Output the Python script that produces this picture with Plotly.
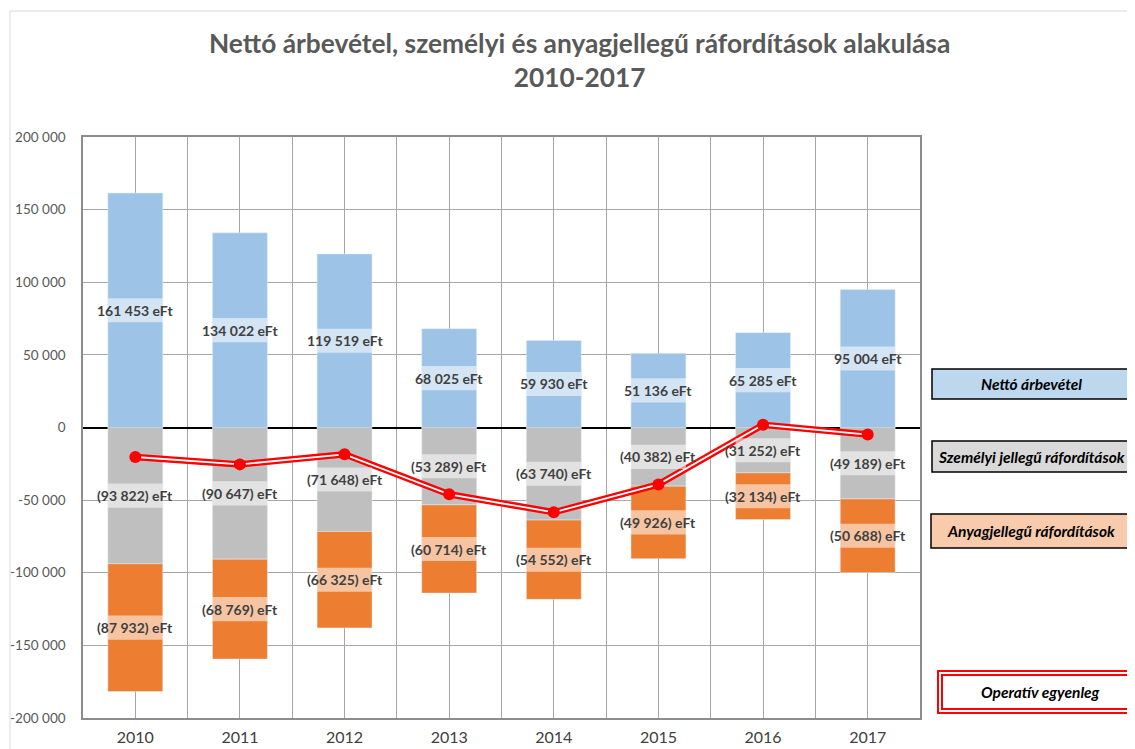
import plotly.graph_objects as go

years = ["2010", "2011", "2012", "2013", "2014", "2015", "2016", "2017"]
netto = [161453, 134022, 119519, 68025, 59930, 51136, 65285, 95004]
szemelyi = [-93822, -90647, -71648, -53289, -63740, -40382, -31252, -49189]
anyag = [-87932, -68769, -66325, -60714, -54552, -49926, -32134, -50688]
operativ = [-20301, -25394, -18454, -45978, -58362, -39172, 1899, -4873]

ytick_vals = [200000, 150000, 100000, 50000, 0, -50000, -100000, -150000, -200000]
ytick_text = ["200 000", "150 000", "100 000", "50 000", "0", "-50 000", "-100 000", "-150 000", "-200 000"]

FONT = "Lato"
OFF = 8  # page body margin in the browser
W, H = 1135 - OFF, 749 - OFF
# plot area in reference pixels: x 83..920, y 137..718
L, R, T, B = 83 - OFF, 1135 - 920, 137 - OFF, 749 - 718
PW, PH = W - L - R, H - T - B

def fmt(v):
    s = f"{abs(v):,}".replace(",", " ")
    return f"{s} eFt" if v >= 0 else f"({s}) eFt"

xs = list(range(len(years)))
bw = 0.525

fig = go.Figure()
fig.add_bar(x=xs, y=netto, name="Nettó árbevétel", marker_color="#9dc3e6", width=bw)
fig.add_bar(x=xs, y=szemelyi, name="Személyi jellegű ráfordítások", marker_color="#bfbfbf", width=bw)
fig.add_bar(x=xs, y=anyag, name="Anyagjellegű ráfordítások", marker_color="#ed7d31", width=bw)

# double red line
fig.add_scatter(x=xs, y=operativ, mode="lines", line=dict(color="#ff0000", width=6.5), showlegend=False)
fig.add_scatter(x=xs, y=operativ, mode="lines", line=dict(color="#ffffff", width=1.8), showlegend=False)
fig.add_scatter(x=xs, y=operativ, mode="markers", marker=dict(color="#ff0000", size=12), showlegend=False)

shapes = []
annotations = []
band_half = 8300
for i in xs:
    centers = [netto[i] / 2, szemelyi[i] / 2, szemelyi[i] + anyag[i] / 2]
    vals = [netto[i], szemelyi[i], anyag[i]]
    for c, v in zip(centers, vals):
        shapes.append(dict(type="rect", xref="x", yref="y", x0=i - bw / 2, x1=i + bw / 2,
                           y0=c - band_half, y1=c + band_half, fillcolor="rgba(255,255,255,0.55)",
                           line=dict(width=0), layer="above"))
        annotations.append(dict(x=i, y=c, xref="x", yref="y", text=f"<b>{fmt(v)}</b>", showarrow=False,
                                xanchor="center", yanchor="middle",
                                font=dict(family=FONT, size=14, color="#404040")))

def px_x(p):
    return (p - OFF - L) / PW

def px_y(p):
    return (H - B - (p - OFF)) / PH

# chart area border
shapes.append(dict(type="rect", xref="paper", yref="paper", x0=px_x(10), x1=px_x(1140), y0=px_y(760), y1=px_y(11),
                   line=dict(color="#d9d9d9", width=1), fillcolor="rgba(0,0,0,0)", layer="below"))

legend_items = [
    ("Nettó árbevétel", 932, 1131, 369, 399, "#bdd7ee"),
    ("Személyi jellegű ráfordítások", 932, 1130, 441, 472, "#d9d9d9"),
    ("Anyagjellegű ráfordítások", 931, 1130, 514, 548, "#f8cbad"),
]
for txt, x0, x1, y0, y1, col in legend_items:
    shapes.append(dict(type="rect", xref="paper", yref="paper", x0=px_x(x0), x1=px_x(x1), y0=px_y(y1), y1=px_y(y0),
                       fillcolor=col, line=dict(color="#000000", width=1.5)))
    annotations.append(dict(xref="paper", yref="paper", x=px_x((x0 + x1) / 2), y=px_y((y0 + y1) / 2),
                            xanchor="center", yanchor="middle",
                            text=f"<b><i>{txt}</i></b>", showarrow=False,
                            font=dict(family=FONT, size=15.5, color="#000000")))

# operativ legend box with double red border
shapes.append(dict(type="rect", xref="paper", yref="paper", x0=px_x(938), x1=px_x(1145), y0=px_y(713), y1=px_y(671),
                   fillcolor="#ffffff", line=dict(color="#ff0000", width=2)))
shapes.append(dict(type="rect", xref="paper", yref="paper", x0=px_x(942), x1=px_x(1141), y0=px_y(709), y1=px_y(675),
                   fillcolor="rgba(0,0,0,0)", line=dict(color="#ff0000", width=2)))
annotations.append(dict(xref="paper", yref="paper", x=px_x(1040), y=px_y(692), xanchor="center", yanchor="middle",
                        text="<b><i>Operatív egyenleg</i></b>", showarrow=False,
                        font=dict(family=FONT, size=15.5, color="#000000")))

# title
annotations.append(dict(xref="paper", yref="paper", x=px_x(579), y=px_y(60), xanchor="center", yanchor="middle",
                        text="<b>Nettó árbevétel, személyi és anyagjellegű ráfordítások alakulása<br>2010-2017</b>",
                        showarrow=False, font=dict(family=FONT, size=26.3, color="#595959")))

fig.update_layout(
    width=W, height=H,
    margin=dict(l=L, r=R, t=T, b=B, autoexpand=False),
    barmode="relative",
    plot_bgcolor="#ffffff", paper_bgcolor="#ffffff",
    showlegend=False,
    shapes=shapes,
    annotations=annotations,
    font=dict(family=FONT),
)
fig.update_xaxes(range=[-0.5, 7.5], tickvals=xs, ticktext=years, showgrid=True, gridcolor="#a6a6a6",
                 gridwidth=1, showline=True, mirror=True, linecolor="#8c8c8c", linewidth=1.5, automargin=False,
                 ticks="", ticklabelstandoff=4, tickfont=dict(family=FONT, size=16, color="#404040"),
                 minor=dict(tickvals=[i + 0.5 for i in xs[:-1]], showgrid=True, gridcolor="#a6a6a6", gridwidth=1),
                 zeroline=False)
fig.update_yaxes(range=[-200000, 200000], tickvals=ytick_vals, ticktext=ytick_text, showgrid=True,
                 gridcolor="#a6a6a6", gridwidth=1, showline=True, mirror=True, linecolor="#8c8c8c", linewidth=1.5,
                 zeroline=True, zerolinecolor="#000000", zerolinewidth=1.5, ticks="", ticklabelstandoff=13,
                 automargin=False, tickfont=dict(family=FONT, size=13.5, color="#595959"))

fig.write_html("out.html")
